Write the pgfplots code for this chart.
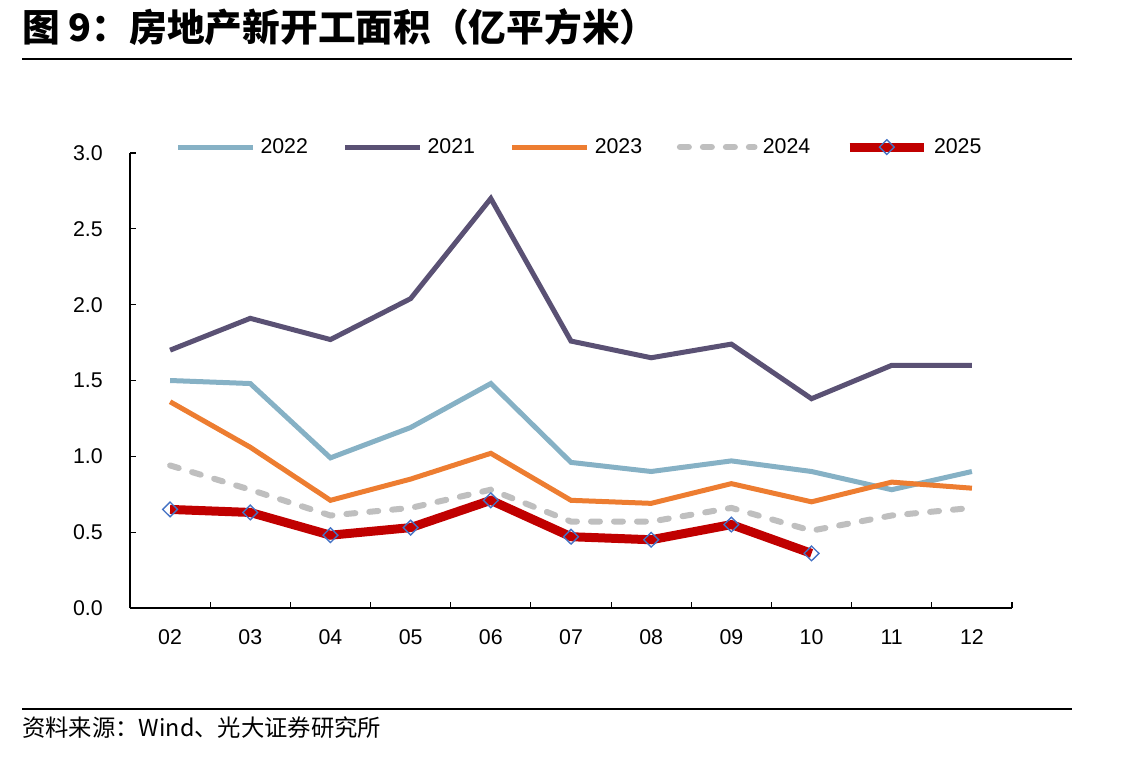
\documentclass[border=0pt]{standalone}
\usepackage{fontspec}
\setmainfont{Liberation Sans}
\newfontfamily\cjk{Noto Sans CJK SC}
\usepackage{pgfplots}
\pgfplotsset{compat=1.18}
\definecolor{c22}{HTML}{86B1C5}
\definecolor{c21}{HTML}{5A5174}
\definecolor{c23}{HTML}{ED7D31}
\definecolor{c24}{HTML}{BFBFBF}
\definecolor{c25}{HTML}{C00000}
\definecolor{cmk}{HTML}{4472C4}
\def\u{0.75pt}
\begin{document}
\begin{tikzpicture}
\path (0,0) rectangle (1143*\u,-757*\u);
\node[anchor=west,inner sep=0pt,font=\cjk\bfseries\fontsize{28.3}{32}\selectfont] at (22*\u,-27*\u) {图 9：房地产新开工面积（亿平方米）};
\draw[line width=1.6pt] (22*\u,-59*\u) -- (1072*\u,-59*\u);
\draw[line width=1.3pt] (22*\u,-709*\u) -- (1072*\u,-709*\u);
\node[anchor=west,inner sep=0pt,font=\cjk\fontsize{17.5}{21}\selectfont] at (22*\u,-728*\u) {资料来源：Wind、光大证券研究所};
\begin{axis}[
  at={(130*\u,-153*\u)}, anchor=north west,
  scale only axis, width=661.5pt, height=341.25pt,
  xmin=-0.5, xmax=10.5, ymin=0, ymax=3,
  axis x line=bottom, axis y line=left,
  axis line style={-, line width=0.8pt},
  xtick={0,...,10},
  xticklabels={02,03,04,05,06,07,08,09,10,11,12},
  minor xtick={-0.5,0.5,...,10.5},
  major x tick style={draw=none},
  ytick={0,0.5,...,3},
  tick align=inside,
  major tick length=4.5pt, minor tick length=4.5pt,
  tick style={black, line width=0.8pt},
  yticklabel style={/pgf/number format/fixed, /pgf/number format/fixed zerofill, /pgf/number format/precision=1},
  /pgf/number format/assume math mode=true,
  ticklabel style={font=\fontsize{16}{19}\selectfont, inner sep=0pt},
  xticklabel style={anchor=center, yshift=-21.75pt},
  yticklabel style={anchor=east, xshift=-20.25pt},
  clip=false,
  legend columns=5,
  legend style={draw=none, fill=none, at={(0.51,1.013)}, anchor=center,
    font=\fontsize{16}{19}\selectfont, inner sep=0pt,
    /tikz/every odd column/.append style={column sep=2pt},
    /tikz/every even column/.append style={column sep=24pt}},
  legend cell align=left,
  legend image code/.code={\draw[mark repeat=2,mark phase=2,#1] plot coordinates {(0pt,0pt) (28pt,0pt) (56pt,0pt)};},
]
\addplot[c22, line width=3.75pt] coordinates {(0,1.50) (1,1.48) (2,0.99) (3,1.19) (4,1.48) (5,0.96) (6,0.90) (7,0.97) (8,0.90) (9,0.78) (10,0.90)};
\addlegendentry{2022}
\addplot[c21, line width=3.75pt] coordinates {(0,1.70) (1,1.91) (2,1.77) (3,2.04) (4,2.70) (5,1.76) (6,1.65) (7,1.74) (8,1.38) (9,1.60) (10,1.60)};
\addlegendentry{2021}
\addplot[c23, line width=3.75pt] coordinates {(0,1.36) (1,1.06) (2,0.71) (3,0.85) (4,1.02) (5,0.71) (6,0.69) (7,0.82) (8,0.70) (9,0.83) (10,0.79)};
\addlegendentry{2023}
\addplot[c24, line width=4.5pt, line cap=round, dash pattern=on 6.75pt off 10.5pt] coordinates {(0,0.94) (1,0.78) (2,0.61) (3,0.66) (4,0.78) (5,0.57) (6,0.57) (7,0.66) (8,0.51) (9,0.61) (10,0.66)};
\addlegendentry{2024}
\addplot[c25, line width=6.75pt, mark=diamond, mark size=5.5pt, mark options={draw=cmk, fill=none, line width=1pt, solid, xscale=1.35}] coordinates {(0,0.65) (1,0.63) (2,0.48) (3,0.53) (4,0.71) (5,0.47) (6,0.45) (7,0.55) (8,0.36)};
\addlegendentry{2025}
\end{axis}
\end{tikzpicture}
\end{document}
